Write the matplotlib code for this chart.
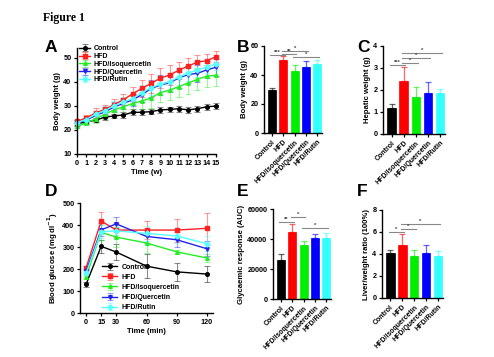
import matplotlib
matplotlib.use("Agg")
import matplotlib.pyplot as plt
import numpy as np

plt.rcParams['font.family'] = ['Liberation Sans', 'DejaVu Sans']
plt.rcParams['font.weight'] = 'bold'
plt.rcParams['axes.labelweight'] = 'bold'
plt.rcParams['mathtext.default'] = 'bf'

groups = ['Control', 'HFD', 'HFD/Isoquercetin', 'HFD/Quercetin', 'HFD/Rutin']
line_colors = ['#000000', '#ff2020', '#22ee22', '#2222ee', '#55ffff']
bar_colors = ['#000000', '#ff0000', '#00ee00', '#0000ff', '#33ffff']
markers = ['o', 's', '^', 'v', 'D']

# Panel A: body weight over weeks
weeks = list(range(16))
bw_control = [22.5, 23.3, 24.0, 25.3, 25.8, 26.2, 27.3, 27.3, 27.6, 28.3, 28.5, 28.8, 28.3, 28.8, 29.6, 29.9]
bw_hfd = [23.5, 25.0, 27.0, 28.5, 30.5, 32.5, 35.0, 37.2, 39.3, 41.5, 42.8, 44.8, 46.5, 48.2, 48.7, 50.4]
bw_iso = [21.5, 23.0, 24.5, 26.5, 28.3, 29.6, 31.0, 32.0, 33.3, 35.5, 36.5, 38.0, 39.5, 41.0, 42.3, 42.7]
bw_quer = [23.0, 24.0, 26.0, 27.5, 29.5, 31.0, 32.5, 34.6, 37.2, 38.6, 39.6, 41.6, 43.0, 43.5, 44.9, 46.0]
bw_rutin = [23.0, 24.3, 26.5, 28.0, 30.0, 31.5, 33.0, 35.5, 37.5, 39.0, 40.0, 42.0, 43.5, 45.0, 46.0, 47.5]
bw_control_err = [0.8, 0.8, 0.8, 1, 1, 1.2, 1.2, 1.2, 1.2, 1.2, 1.2, 1.2, 1.2, 1.2, 1.2, 1.2]
bw_hfd_err = [0.8, 1.2, 2, 2, 2.2, 2.2, 3, 3.5, 4, 4, 4, 3.5, 3.5, 3, 3, 2.2]
bw_iso_err = [0.8, 1, 1.5, 2, 2.5, 3, 3, 3.5, 4, 4, 4, 4.5, 4.5, 4.5, 4.5, 4.5]
bw_quer_err = [1, 1, 1.5, 2, 2, 2.2, 2.5, 3, 3.5, 4, 4, 4, 3.5, 3.5, 3.5, 3.5]
bw_rutin_err = [1, 1, 1.5, 2, 2, 2, 2.5, 3, 3, 3.5, 3.5, 3.5, 3, 3, 2.5, 2.5]

# Panel B: final body weight
final_bw = [29.8, 50.3, 42.8, 45.5, 47.5]
final_bw_err = [1.2, 2.5, 4.0, 4.0, 3.0]
# Panel C: hepatic weight
hepatic = [1.17, 2.43, 1.70, 1.88, 1.85]
hepatic_err = [0.18, 0.60, 0.42, 0.48, 0.18]

# Panel D: blood glucose
times = [0, 15, 30, 60, 90, 120]
bg_control = [130, 303, 277, 213, 187, 177]
bg_hfd = [205, 418, 377, 377, 377, 385]
bg_iso = [165, 367, 345, 318, 278, 250]
bg_quer = [190, 378, 405, 348, 333, 292]
bg_rutin = [180, 370, 373, 362, 350, 315]
bg_control_err = [12, 30, 35, 55, 40, 38]
bg_hfd_err = [10, 40, 30, 40, 52, 70]
bg_iso_err = [10, 35, 45, 45, 10, 20]
bg_quer_err = [10, 30, 30, 30, 35, 35]
bg_rutin_err = [10, 30, 20, 35, 30, 35]

# Panel E: glycaemic AUC
auc = [26000, 44500, 36000, 40500, 41000]
auc_err = [4000, 5500, 2700, 2700, 3000]
# Panel F: liver/weight ratio
ratio = [4.05, 4.85, 3.85, 4.05, 3.80]
ratio_err = [0.35, 0.95, 0.55, 0.80, 0.45]

# significance brackets: (i, j, y, label)
sig_B = [(0, 1, 53.8, '***'), (1, 2, 54.5, '**'), (1, 3, 56.6, '*'), (2, 4, 52.2, '*')]
sig_C = [(0, 1, 3.14, '***'), (1, 2, 3.24, '*'), (1, 3, 3.44, '*'), (1, 4, 3.67, '*')]
sig_E = [(0, 1, 51500, '**'), (1, 2, 54900, '*'), (2, 4, 47500, '*')]
sig_F = [(0, 1, 5.97, '*'), (1, 2, 6.24, '*'), (1, 4, 6.70, '*')]

W, H = 494, 357
fig = plt.figure(figsize=(W / 100, H / 100), dpi=100)


def ax_px(l, r, b, t):
    return fig.add_axes([l / W, 1 - b / H, (r - l) / W, (b - t) / H])


def style(ax):
    for s in ['top', 'right']:
        ax.spines[s].set_visible(False)
    for s in ['left', 'bottom']:
        ax.spines[s].set_linewidth(1.0)
    ax.tick_params(width=0.9, length=2.5, labelsize=5.2, pad=1.5)
    for lab in ax.get_xticklabels() + ax.get_yticklabels():
        lab.set_fontweight('bold')


fs_lab = 5.6
fs_leg = 5.0

# Panel A
axA = ax_px(77, 216, 154, 48)
seriesA = [(bw_control, bw_control_err), (bw_hfd, bw_hfd_err), (bw_iso, bw_iso_err),
           (bw_quer, bw_quer_err), (bw_rutin, bw_rutin_err)]
for k, (vals, err) in enumerate(seriesA):
    axA.errorbar(weeks, vals, yerr=err, color=line_colors[k], ecolor=line_colors[k],
                 elinewidth=0.8, capsize=2, capthick=0.8, marker=markers[k], markersize=2.6,
                 lw=1.0, label=groups[k], clip_on=False, alpha=1)
    for c in axA.containers[-1][2]:
        c.set_alpha(0.45)
    for c in axA.containers[-1][1]:
        c.set_alpha(0.45)
axA.set_xlim(0, 15)
axA.set_ylim(10, 54)
axA.set_xticks(weeks)
axA.set_yticks([10, 20, 30, 40, 50])
axA.set_xlabel('Time (w)', fontsize=fs_lab, labelpad=2)
axA.set_ylabel('Body weight (g)', fontsize=fs_lab, labelpad=2)
style(axA)
axA.tick_params(axis='x', labelsize=5.2)
legA = axA.legend(loc='upper left', bbox_to_anchor=(-0.01, 1.06), frameon=False, fontsize=fs_leg,
                  handlelength=1.6, handletextpad=0.5, labelspacing=0.12, borderpad=0)
for t in legA.get_texts():
    t.set_fontweight('bold')


def bar_panel(ax, vals, errs, sigs, ylim, yticks, ylabel, yfmt=None):
    x = np.arange(len(groups))
    ax.bar(x, vals, width=0.7, color=bar_colors, edgecolor=bar_colors, lw=0.5, zorder=2)
    for k in range(len(groups)):
        ax.errorbar(x[k], vals[k], yerr=[[0], [errs[k]]], fmt='none', ecolor=bar_colors[k],
                    elinewidth=0.9, capsize=2.2, capthick=0.9, alpha=0.6, zorder=1)
    for i, j, y, lab in sigs:
        ax.plot([x[i] - 0.15, x[j] + 0.15], [y, y], color='#888888', lw=0.8, clip_on=False)
        ax.text((x[i] + x[j]) / 2, y, lab, ha='center', va='bottom', fontsize=4.2,
                fontweight='bold', color='#444444')
    ax.set_xlim(-0.7, 4.4)
    ax.set_ylim(*ylim)
    ax.set_yticks(yticks)
    ax.set_xticks(x)
    ax.set_xticklabels(groups, rotation=45, ha='right', rotation_mode='anchor', fontsize=5.0)
    ax.set_ylabel(ylabel, fontsize=fs_lab, labelpad=2)
    style(ax)
    ax.tick_params(axis='x', labelsize=5.0)


axB = ax_px(264, 322, 133, 46)
bar_panel(axB, final_bw, final_bw_err, sig_B, (0, 60), [0, 20, 40, 60], 'Body weight (g)')
axC = ax_px(383, 445, 134, 46)
bar_panel(axC, hepatic, hepatic_err, sig_C, (0, 4), [0, 1, 2, 3, 4], 'Hepatic weight (g)')

# Panel D
axD = ax_px(80, 213, 313, 203)
seriesD = [(bg_control, bg_control_err), (bg_hfd, bg_hfd_err), (bg_iso, bg_iso_err),
           (bg_quer, bg_quer_err), (bg_rutin, bg_rutin_err)]
for k, (vals, err) in enumerate(seriesD):
    axD.errorbar(times, vals, yerr=err, color=line_colors[k], ecolor=line_colors[k],
                 elinewidth=0.8, capsize=2, capthick=0.8, marker=markers[k], markersize=2.6,
                 lw=1.0, label=groups[k], clip_on=False)
    for c in axD.containers[-1][2]:
        c.set_alpha(0.45)
    for c in axD.containers[-1][1]:
        c.set_alpha(0.45)
axD.set_xlim(-6, 126)
axD.set_ylim(0, 500)
axD.set_xticks(times)
axD.set_yticks([0, 100, 200, 300, 400, 500])
axD.set_xlabel('Time (min)', fontsize=fs_lab, labelpad=2)
axD.set_ylabel(r'Blood glucose (mg dl$^{\mathbf{-1}}$)', fontsize=fs_lab, labelpad=2)
style(axD)
legD = axD.legend(loc='upper left', bbox_to_anchor=(0.14, 0.48), frameon=False, fontsize=fs_leg,
                  handlelength=2.2, handletextpad=0.6, labelspacing=0.45, borderpad=0)
for t in legD.get_texts():
    t.set_fontweight('bold')

axE = ax_px(273, 331, 299, 209)
bar_panel(axE, auc, auc_err, sig_E, (0, 60000), [0, 20000, 40000, 60000], 'Glycaemic response (AUC)')
axF = ax_px(382, 443, 298, 210)
bar_panel(axF, ratio, ratio_err, sig_F, (0, 8), [0, 2, 4, 6, 8], 'Liver/weight ratio (100%)')

# Figure title and panel letters
fig.text(43 / W, 1 - 18 / H, 'Figure 1', fontsize=8.5, fontweight='bold',
         family=['Liberation Serif', 'DejaVu Serif'], va='center', ha='left')
letters = [('A', 45, 47), ('B', 237, 47), ('C', 357, 47), ('D', 45, 192), ('E', 237, 192), ('F', 357, 192)]
for lt, x, y in letters:
    fig.text(x / W, 1 - y / H, lt, fontsize=12.5, fontweight='bold', va='center', ha='left')

fig.savefig('out.png', dpi=100)
